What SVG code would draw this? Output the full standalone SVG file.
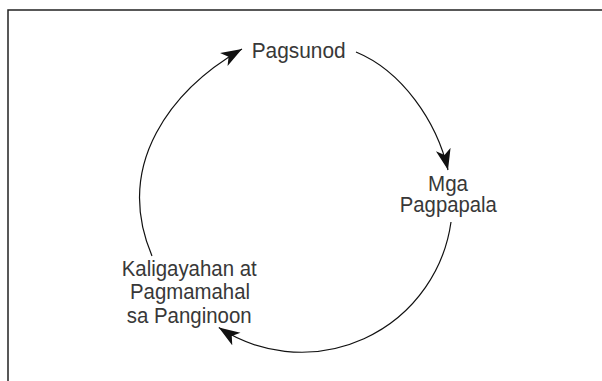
<svg xmlns="http://www.w3.org/2000/svg" width="602" height="381" viewBox="0 0 602 381">
  <style>
    .lbl { font-family: "Liberation Sans", Arial, sans-serif; font-size: 21.5px; fill: #383838; text-anchor: middle; }
    .arc { fill: none; stroke: #111; stroke-width: 1.2; marker-end: url(#head); }
    .frame { fill: none; stroke: #222; stroke-width: 1.5; }
  </style>
  <defs>
    <marker id="head" markerUnits="userSpaceOnUse" markerWidth="22" markerHeight="16" refX="21" refY="8" orient="auto" viewBox="0 0 22 16">
      <path d="M21,8 L0,0.5 L5.5,8 L0,15.5 Z" fill="#111"/>
    </marker>
  </defs>
  <rect width="602" height="381" fill="#fff"/>
  <g id="frame">
    <path class="frame" d="M8,381 L8,10 L602,10"/>
  </g>
  <g id="connectors">
    <path class="arc" d="M152,256 C113,163.3 172.7,89 242,49"/>
    <path class="arc" d="M356,52 C402,71 436.7,121.3 448,170"/>
    <path class="arc" d="M451,222 A151,151 0 0 1 218.8,327.6"/>
  </g>
  <g id="node-pagsunod">
    <text class="lbl" x="298.7" y="58.3" textLength="94" lengthAdjust="spacingAndGlyphs">Pagsunod</text>
  </g>
  <g id="node-pagpapala">
    <text class="lbl" x="448" y="190.5" textLength="40" lengthAdjust="spacingAndGlyphs">Mga</text>
    <text class="lbl" x="448.3" y="212" textLength="97" lengthAdjust="spacingAndGlyphs">Pagpapala</text>
  </g>
  <g id="node-kaligayahan">
    <text class="lbl" x="189.2" y="276" textLength="135" lengthAdjust="spacingAndGlyphs">Kaligayahan at</text>
    <text class="lbl" x="190" y="299" textLength="120" lengthAdjust="spacingAndGlyphs">Pagmamahal</text>
    <text class="lbl" x="189.2" y="322.5" textLength="125" lengthAdjust="spacingAndGlyphs">sa Panginoon</text>
  </g>
</svg>
